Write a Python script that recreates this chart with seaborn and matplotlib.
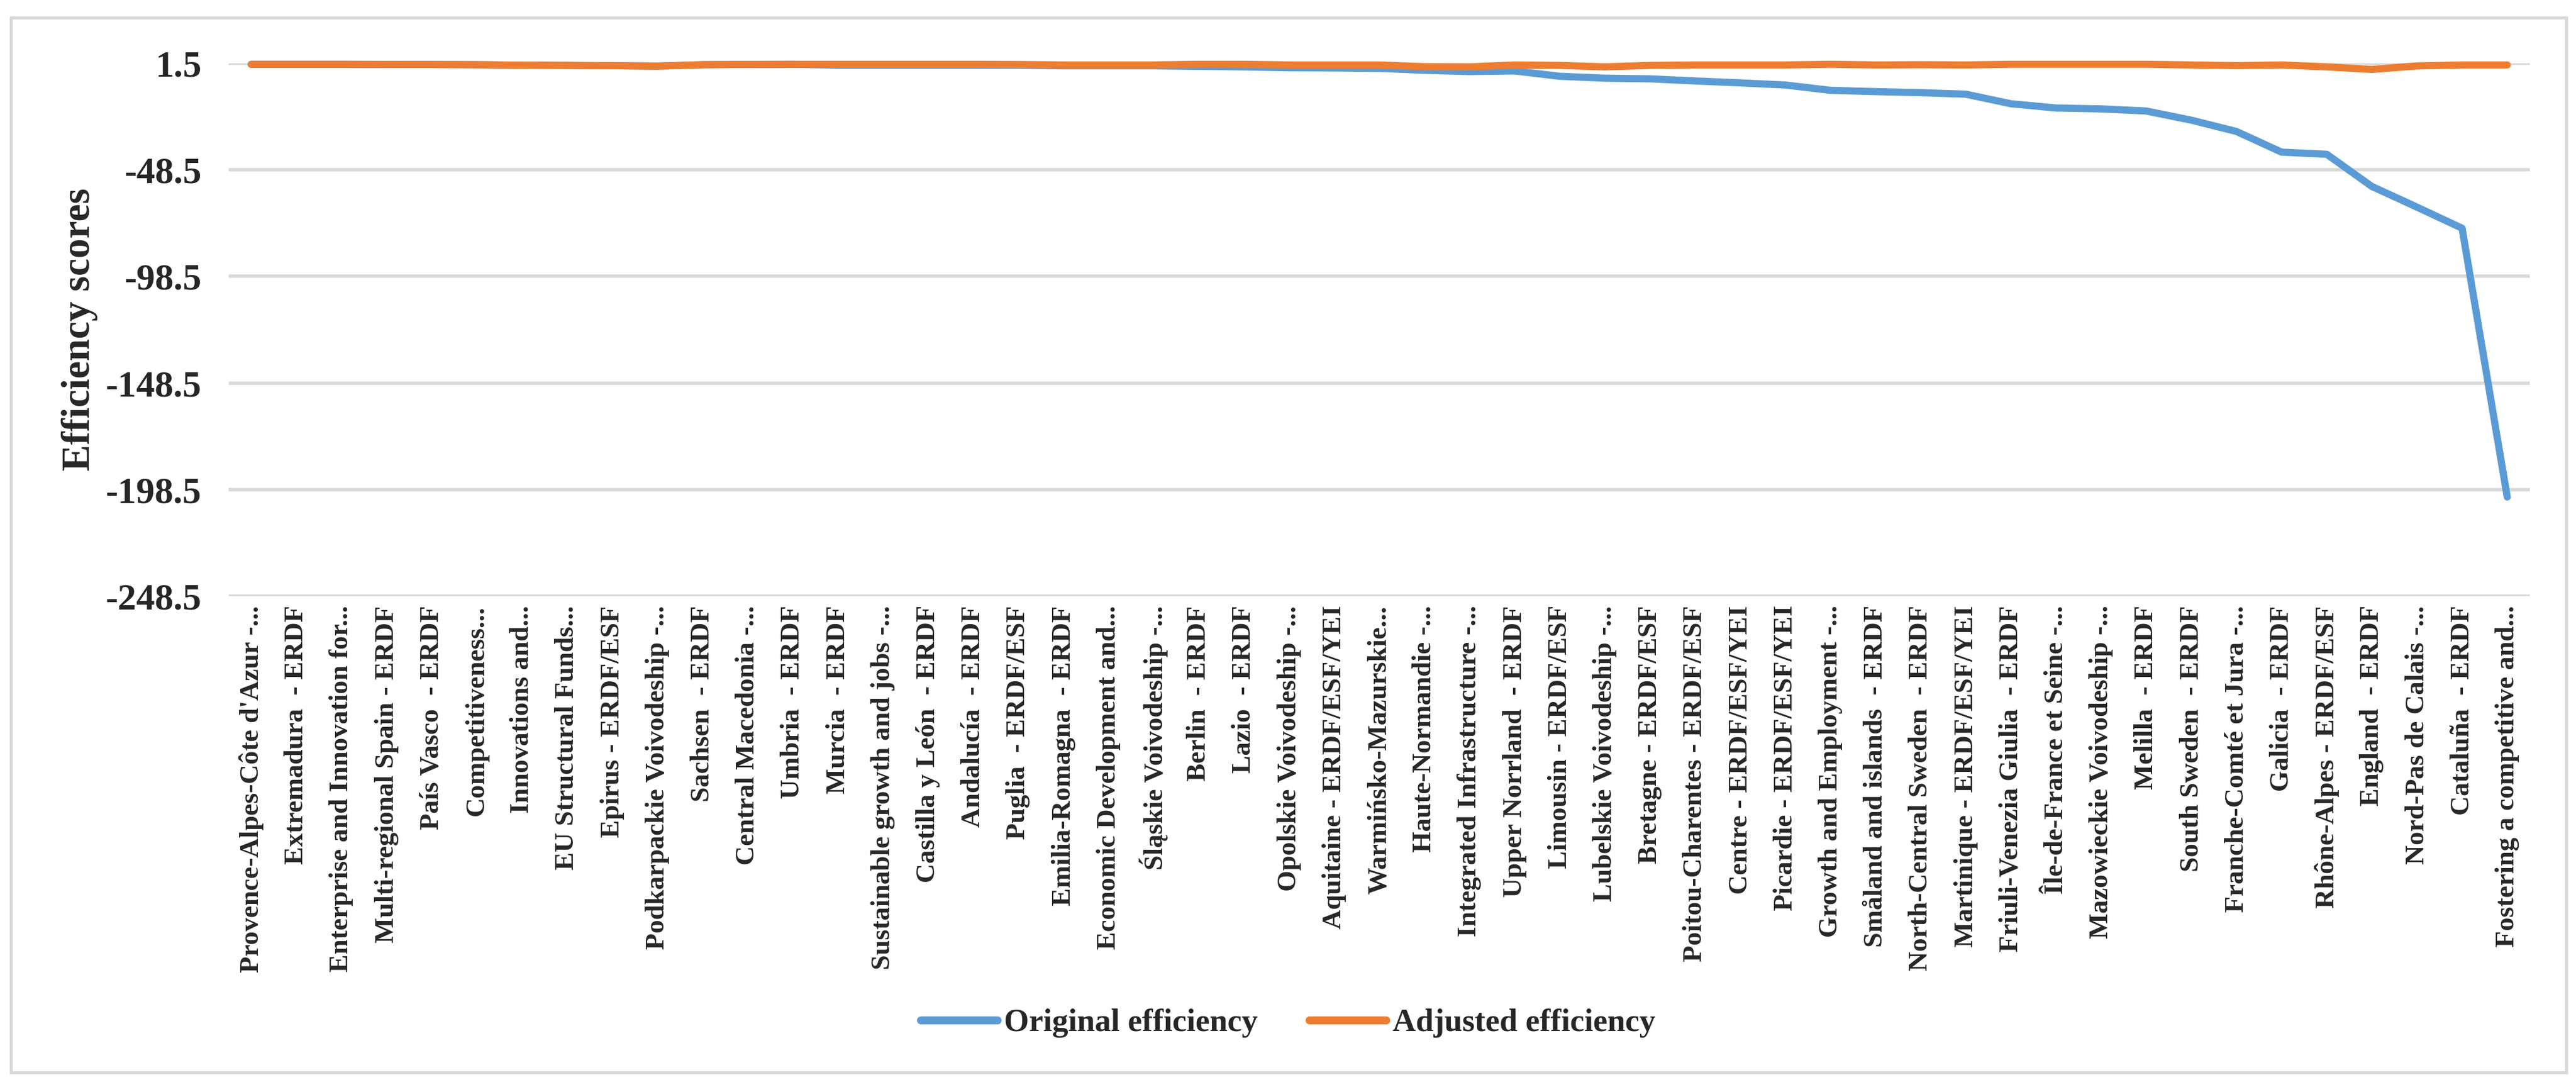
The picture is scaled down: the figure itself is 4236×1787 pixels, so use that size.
import pandas as pd
import numpy as np
import matplotlib
matplotlib.use("Agg")
import matplotlib.pyplot as plt
from matplotlib.patches import Rectangle
from matplotlib.lines import Line2D
import seaborn as sns

# Data
programmes = [
    "Provence-Alpes-Côte d'Azur -...", "Extremadura  - ERDF", "Enterprise and Innovation for...",
    "Multi-regional Spain - ERDF", "País Vasco  - ERDF", "Competitiveness...",
    "Innovations and...", "EU Structural Funds...", "Epirus - ERDF/ESF",
    "Podkarpackie Voivodeship -...", "Sachsen  - ERDF", "Central Macedonia -...",
    "Umbria  - ERDF", "Murcia  - ERDF", "Sustainable growth and jobs -...",
    "Castilla y León  - ERDF", "Andalucía  - ERDF", "Puglia  - ERDF/ESF",
    "Emilia-Romagna  - ERDF", "Economic Development and...", "Śląskie Voivodeship -...",
    "Berlin  - ERDF", "Lazio  - ERDF", "Opolskie Voivodeship -...",
    "Aquitaine - ERDF/ESF/YEI", "Warmińsko-Mazurskie...", "Haute-Normandie -...",
    "Integrated Infrastructure -...", "Upper Norrland  - ERDF", "Limousin - ERDF/ESF",
    "Lubelskie Voivodeship -...", "Bretagne - ERDF/ESF", "Poitou-Charentes - ERDF/ESF",
    "Centre - ERDF/ESF/YEI", "Picardie - ERDF/ESF/YEI", "Growth and Employment -...",
    "Småland and islands  - ERDF", "North-Central Sweden  - ERDF", "Martinique - ERDF/ESF/YEI",
    "Friuli-Venezia Giulia  - ERDF", "Île-de-France et Seine -...", "Mazowieckie Voivodeship -...",
    "Melilla  - ERDF", "South Sweden  - ERDF", "Franche-Comté et Jura -...",
    "Galicia  - ERDF", "Rhône-Alpes - ERDF/ESF", "England  - ERDF",
    "Nord-Pas de Calais -...", "Cataluña  - ERDF", "Fostering a competitive and...",
]

original_eff = [
    1.0, 1.0, 1.0, 0.95, 0.9, 0.8, 0.6, 0.5, 0.35, 0.15,
    0.8, 0.95, 1.0, 0.6, 0.6, 0.6, 0.6, 0.6, 0.3, 0.3,
    0.3, 0.05, -0.2, -0.6, -0.7, -0.9, -1.8, -2.4, -2.1, -4.6,
    -5.5, -5.8, -6.8, -7.7, -8.7, -11.2, -11.8, -12.3, -13.0, -17.5,
    -19.5, -19.9, -20.9, -25.2, -30.5, -40.2, -41.2, -56.3, -66.0, -75.9,
    -202.0,
]

adjusted_eff = [
    1.0, 1.0, 1.0, 0.95, 0.9, 0.8, 0.6, 0.5, 0.35, 0.15,
    0.8, 0.95, 1.0, 1.0, 1.0, 1.0, 1.0, 0.9, 0.7, 0.7,
    0.7, 1.0, 1.0, 0.7, 0.7, 0.7, -0.1, -0.2, 0.7, 0.5,
    -0.2, 0.5, 0.7, 0.7, 0.7, 1.0, 0.7, 0.8, 0.7, 1.0,
    1.0, 1.0, 1.0, 0.7, 0.4, 0.7, -0.2, -1.4, 0.25, 0.7,
    0.7,
]

y_ticks = [1.5, -48.5, -98.5, -148.5, -198.5, -248.5]
series_names = ["Original efficiency", "Adjusted efficiency"]
colors = {"Original efficiency": "#5B9BD5", "Adjusted efficiency": "#ED7D31"}


def build_frame():
    n = len(programmes)
    return pd.DataFrame({
        "programme": programmes * 2,
        "score": original_eff + adjusted_eff,
        "series": [series_names[0]] * n + [series_names[1]] * n,
    })


def main():
    sns.set_theme(style="white")
    plt.rcParams["font.family"] = ["Liberation Serif", "DejaVu Serif"]
    plt.rcParams["font.weight"] = "bold"
    plt.rcParams["axes.unicode_minus"] = False

    W, H = 4236, 1787
    fig = plt.figure(figsize=(W / 100, H / 100), dpi=100)
    left, right, top, bottom = 376, 4160, 104, 980
    ax = fig.add_axes([left / W, 1 - bottom / H, (right - left) / W, (bottom - top) / H])

    data = build_frame()
    sns.lineplot(data=data, x="programme", y="score", hue="series",
                 palette=colors, hue_order=series_names, sort=False,
                 errorbar=None, linewidth=8.5, legend=False, ax=ax,
                 solid_capstyle="round", solid_joinstyle="round", clip_on=False)

    ax.set_xlim(-0.5, len(programmes) - 0.5)
    ax.set_ylim(y_ticks[-1], y_ticks[0])
    ax.set_yticks(y_ticks)
    ax.set_yticklabels([f"{v:.1f}" for v in y_ticks], fontsize=44, fontweight="bold")
    ax.set_xticks(range(len(programmes)))
    ax.set_xticklabels(programmes, rotation=90, ha="center", va="top",
                       fontsize=32, fontweight="bold")
    ax.tick_params(axis="both", length=0)
    ax.tick_params(axis="y", pad=32)
    ax.tick_params(axis="x", pad=11)

    ax.set_xlabel("")
    ax.set_ylabel("Efficiency scores", fontsize=47, fontweight="bold")
    ax.yaxis.label.set_va("center")
    ax.yaxis.set_label_coords((131 - left) / (right - left), 0.5)

    ax.grid(axis="y", color="#D9D9D9", linewidth=4)
    ax.grid(axis="x", visible=False)
    ax.set_axisbelow(True)
    for s in ax.spines.values():
        s.set_visible(False)

    handles = [Line2D([0], [0], color=colors[n], lw=9.5, solid_capstyle="round") for n in series_names]
    fig.legend(handles, series_names, loc="center", bbox_to_anchor=(0.5, 1 - 1682 / H),
               ncol=2, frameon=False, prop={"size": 38, "weight": "bold"},
               handlelength=2.4, handletextpad=0.2, columnspacing=1.6)

    fig.add_artist(Rectangle((18 / W, 1 - 1763 / H), (4220 - 18) / W, (1763 - 29) / H,
                             transform=fig.transFigure, fill=False,
                             edgecolor="#D9D9D9", linewidth=3.6))

    fig.savefig("out.png", dpi=100)


if __name__ == "__main__":
    main()
